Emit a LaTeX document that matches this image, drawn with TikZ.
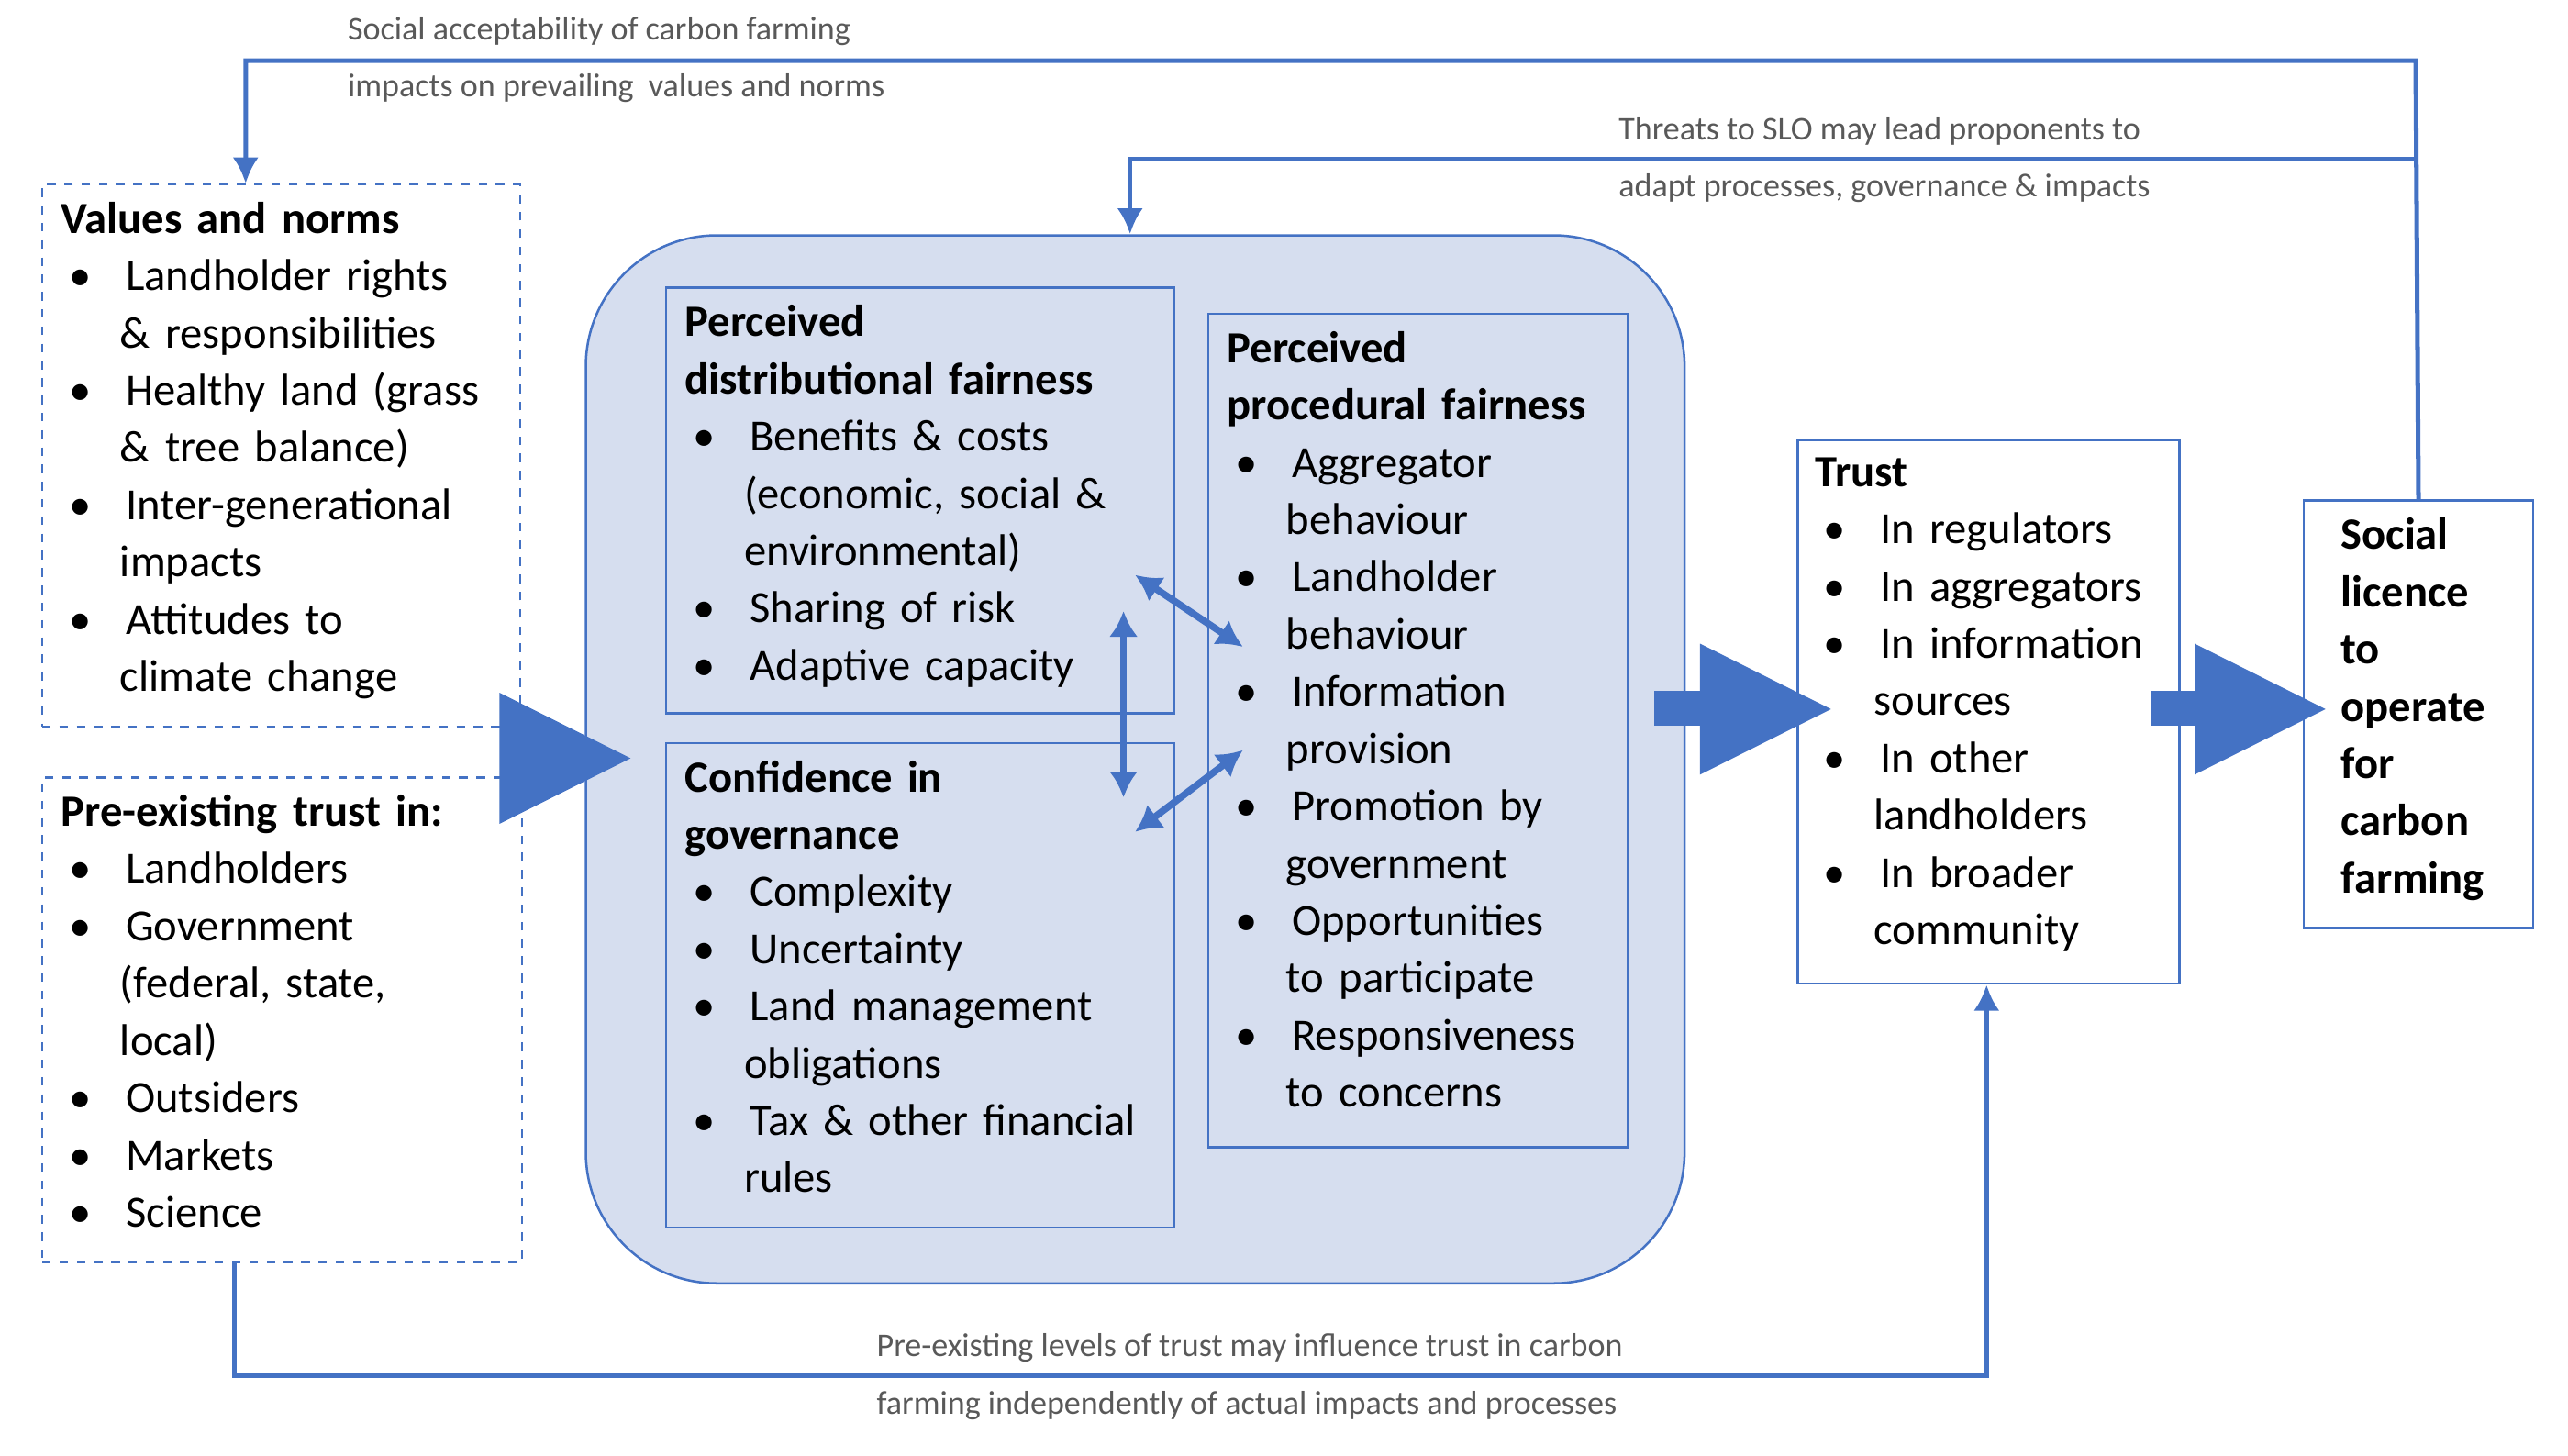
\documentclass[tikz,border=0pt]{standalone}
\usepackage{fontspec}
\setmainfont{Carlito}
\usepackage{enumitem}
\usetikzlibrary{positioning,arrows.meta}
\definecolor{slo}{HTML}{4472C4}
\definecolor{slofill}{HTML}{D6DEEF}
\setlist[itemize]{nosep,labelindent=0.1cm,labelwidth=0.2cm,labelsep=0.42cm,leftmargin=0.72cm,align=left,label=\textbullet}
\tikzset{
  box/.style={draw=slo, line width=0.8pt, fill=white, anchor=north west, inner sep=0pt},
  inbox/.style={box, fill=slofill},
  txt/.style={anchor=north west, inner sep=0pt, align=left, font=\fontsize{15.5}{19.9}\selectfont},
  note/.style={anchor=north west, inner sep=0pt, align=left, text=black!65, font=\fontsize{11.5}{19.9}\selectfont},
  link/.style={draw=slo, line width=1.6pt},
  dbl/.style={draw=slo, line width=2.4pt, {Latex[length=9pt,width=10pt]}-{Latex[length=9pt,width=10pt]}},
  fat/.style={fill=slo, draw=none}
}
\begin{document}
\begin{tikzpicture}[x=0.02cm, y=-0.02cm]
    \useasboundingbox (0,0) rectangle (1568,889);

    % boxes
    \node[box, dashed, minimum width=5.84cm, minimum height=6.62cm] (values) at (25,112) {};
    \node[box, dashed, minimum width=5.86cm, minimum height=5.92cm] (prior) at (25,474) {};
    \node[draw=slo, line width=0.8pt, fill=slofill, rounded corners=1.6cm, anchor=north west,
          minimum width=13.42cm, minimum height=12.8cm] (core) at (357,143) {};
    \node[inbox, minimum width=6.2cm, minimum height=5.2cm] (dist) at (406,175) {};
    \node[inbox, minimum width=6.2cm, minimum height=5.92cm] (gov) at (406,453) {};
    \node[inbox, minimum width=5.12cm, minimum height=10.18cm] (proc) at (737,191) {};
    \node[box, minimum width=4.66cm, minimum height=6.64cm] (trust) at (1097,268) {};
    \node[box, minimum width=2.8cm, minimum height=5.22cm] (slobox) at (1406,305) {};

    % texts
    \node[txt, text width=5.6cm] (valuestxt) at (37,123) {\textbf{Values and norms}
      \begin{itemize}
        \item Landholder rights\\\& responsibilities
        \item Healthy land (grass\\\& tree balance)
        \item Inter-generational\\impacts
        \item Attitudes to\\climate change
      \end{itemize}};
    \node[txt, text width=5.6cm] (priortxt) at (37,485) {\textbf{Pre-existing trust in:}
      \begin{itemize}
        \item Landholders
        \item Government\\(federal, state,\\local)
        \item Outsiders
        \item Markets
        \item Science
      \end{itemize}};
    \node[txt, text width=5.9cm] (disttxt) at (418,186) {\textbf{Perceived}\\\textbf{distributional fairness}
      \begin{itemize}
        \item Benefits \& costs\\(economic, social \&\\environmental)
        \item Sharing of risk
        \item Adaptive capacity
      \end{itemize}};
    \node[txt, text width=5.9cm] (govtxt) at (418,464) {\textbf{Confidence in}\\\textbf{governance}
      \begin{itemize}
        \item Complexity
        \item Uncertainty
        \item Land management\\obligations
        \item Tax \& other financial\\rules
      \end{itemize}};
    \node[txt, text width=4.9cm] (proctxt) at (749,202) {\textbf{Perceived}\\\textbf{procedural fairness}
      \begin{itemize}
        \item Aggregator\\behaviour
        \item Landholder\\behaviour
        \item Information\\provision
        \item Promotion by\\government
        \item Opportunities\\to participate
        \item Responsiveness\\to concerns
      \end{itemize}};
    \node[txt, text width=4.5cm] (trusttxt) at (1108,279) {\textbf{Trust}
      \begin{itemize}
        \item In regulators
        \item In aggregators
        \item In information\\sources
        \item In other\\landholders
        \item In broader\\community
      \end{itemize}};
    \node[txt, text width=2.6cm] (slotxt) at (1429,316) {\textbf{Social}\\\textbf{licence}\\\textbf{to}\\\textbf{operate}\\\textbf{for}\\\textbf{carbon}\\\textbf{farming}};

    % block arrows
    \path[fat] (305,423) -- (385,463) -- (305,503) -- cycle;
    \path[fat] (1010,422) rectangle (1040,443);
    \path[fat] (1038,393) -- (1118,433) -- (1038,473) -- cycle;
    \path[fat] (1313,422) rectangle (1342,443);
    \path[fat] (1340,393) -- (1420,433) -- (1340,473) -- cycle;

    % links between the inner boxes
    \coordinate (a1) at (686,373);
    \coordinate (a2) at (686,487);
    \coordinate (b1) at (693,351);
    \coordinate (b2) at (759,395);
    \coordinate (c1) at (693,508);
    \coordinate (c2) at (759,458);
    \draw[dbl] (a1) -- (a2);
    \draw[dbl] (b1) -- (b2);
    \draw[dbl] (c1) -- (c2);

    % feedback loops
    \coordinate (top1) at (1475,37);
    \coordinate (top2) at (150,37);
    \coordinate (mid1) at (1475,97);
    \coordinate (mid2) at (690,97);
    \coordinate (bot1) at (143,840);
    \coordinate (bot2) at (1213,840);
    \draw[link, -{Latex[length=9pt,width=9pt]}] (slobox.north) -- (top1) -- (top2) -- (values.north -| top2);
    \draw[link, -{Latex[length=9pt,width=9pt]}] (mid1) -- (mid2) -- (core.north -| mid2);
    \draw[link, -{Latex[length=9pt,width=9pt]}] (prior.south -| bot1) -- (bot1) -- (bot2) -- (trust.south -| bot2);

    \node[note] (n1) at (212,10) {Social acceptability of carbon farming\\impacts on prevailing\ \ values and norms};
    \node[note] (n2) at (988,71) {Threats to SLO may lead proponents to\\adapt processes, governance \& impacts};
    \node[note] (n3) at (535,814) {Pre-existing levels of trust may influence trust in carbon\\farming independently of actual impacts and processes};
\end{tikzpicture}
\end{document}
